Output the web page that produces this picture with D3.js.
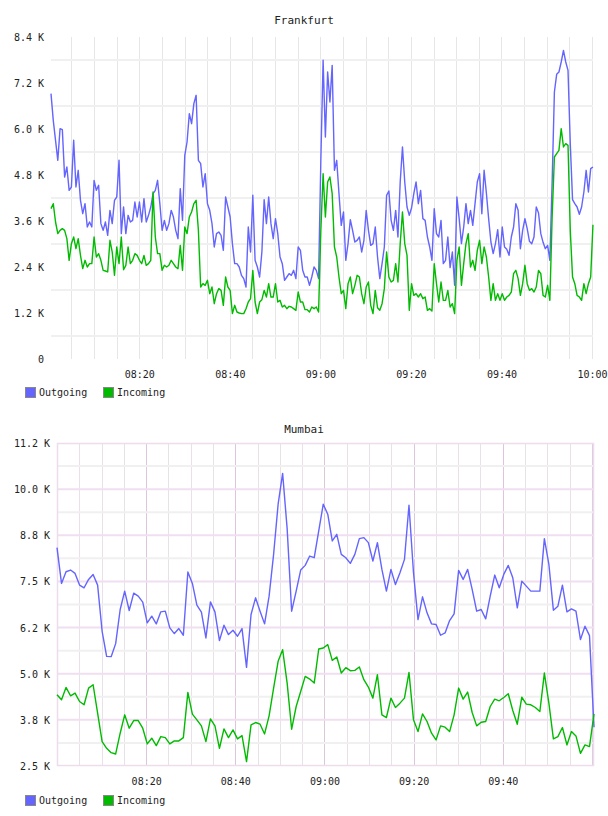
<!DOCTYPE html>
<html>
<head>
<meta charset="utf-8">
<script src="https://cdn.jsdelivr.net/npm/d3@7"></script>
<style>
  body { margin: 0; background: #fff; }
  svg { display: block; }
  text { font-family: "DejaVu Sans Mono", "Liberation Mono", monospace; fill: #222; }
</style>
</head>
<body>
<script>
// Frankfurt: one sample roughly every 30 s, 08:00:29 -> 10:00:14
var frankfurtOut = [
  6922, 6226, 5705, 5183, 6009, 5983, 4748, 5009, 4400, 4487,
  5705, 4487, 4922, 4139, 3791, 4052, 3444, 3574, 3444, 4661,
  4400, 4531, 3531, 3357, 3574, 3226, 3878, 3531, 4139, 4226,
  5183, 3270, 3965, 3270, 3748, 3574, 3617, 4096, 3704, 4096,
  3574, 4183, 3574, 3748, 3965, 4313, 4400, 4661, 4052, 3357,
  3617, 3357, 3531, 3878, 3704, 3357, 3139, 4444, 3617, 5313,
  5661, 6400, 6139, 6661, 6879, 5183, 5096, 4487, 4835, 4052,
  3878, 3531, 2922, 3270, 3313, 3226, 2835, 4226, 3965, 3704,
  3009, 2487, 2487, 2400,
  2183, 2096, 1878, 3444, 2791, 4270, 2574, 2400, 2139, 2791,
  4157, 3531, 4226, 3531, 3139, 3661, 3270, 2661, 2487, 2052,
  2139, 2226, 2183, 2313, 2096, 2922, 2835, 2313, 2139, 2139,
  1922, 2139, 2400, 2313, 2096, 5183, 7792, 5792, 7487, 6705,
  7661, 4922, 5183, 4313, 3487, 3835, 2574, 3009, 3635, 3357,
  3052, 3096, 3183, 2791, 3096, 3878, 3357, 2965, 3009, 3444,
  2661, 2096, 2487, 2922, 4270, 4383, 3617, 3357, 3878, 3183,
  4618, 5531, 4618, 3965, 3748, 3939, 4313, 4618, 4052, 4400,
  3661, 3617, 3183, 2922,
  2574, 3922, 3270, 3183, 3617, 2487, 2574, 3183, 2383, 2791,
  1922, 4226, 3661, 3009, 3444, 4052, 3531, 3878, 3487, 4052,
  4618, 4835, 3791, 4922, 4331, 3661, 3052, 2748, 3009, 3374,
  2661, 3444, 2922, 2861, 2704, 3183, 3444, 4052, 3878, 2878,
  3357, 3661, 3400, 3070, 3009, 3183, 3965, 3809, 3270, 3044,
  2878, 2965, 2574, 4618, 6965, 7426, 7487, 7748, 8052, 7748,
  7531, 5618, 4157, 4052, 3965, 3774, 3965, 4357, 4922, 4357,
  4965, 5009
];
var frankfurtIn = [
  3922, 4052, 3574, 3270, 3357, 3400, 3357, 3139, 2574, 3009,
  3183, 2878, 3139, 2704, 2357, 2574, 2400, 2487, 2487, 3183,
  2661, 2748, 2574, 2313, 2296, 2270, 3096, 2791, 2183, 2922,
  2487, 3183, 2330, 2444, 2922, 2487, 2574, 2748, 2704, 2574,
  2487, 2704, 2444, 2487, 2574, 4357, 3183, 2748, 2748, 2313,
  2444, 2400, 2444, 2574, 2487, 2400, 2357, 2965, 2313, 3444,
  3270, 3704, 3835, 4052, 4139, 3357, 1878, 1965, 1922, 2052,
  1704, 1878, 1443, 1704, 1835, 1791, 1400, 2139, 1878, 1791,
  1183, 1400, 1226, 1200,
  1183, 1183, 1313, 1487, 1574, 2313, 1487, 1183, 1487, 1548,
  1791, 1617, 1965, 1617, 1617, 1965, 1487, 1530, 1357, 1400,
  1313, 1374, 1357, 1313, 1270, 1748, 1487, 1487, 1287, 1287,
  1226, 1357, 1313, 1357, 1226, 3357, 4835, 3704, 4618, 4748,
  4313, 2922, 2661, 2139, 1704, 1791, 1313, 1965, 2139, 1704,
  1922, 2183, 2139, 1704, 1443, 1878, 2009, 1400, 1183, 1791,
  1339, 1270, 1443, 1835, 2791, 2139, 2009, 2052, 2487, 2009,
  3009, 3835, 3009, 2704, 1270, 1965, 1661, 1704, 1617, 1704,
  1574, 1617, 1270, 1313,
  1252, 2487, 1965, 1487, 2009, 1530, 1530, 1791, 1357, 1443,
  1183, 2574, 2922, 1922, 2487, 3009, 3270, 2400, 2574, 2313,
  2835, 3096, 2487, 2922, 2661, 2139, 1530, 1965, 1530, 1704,
  1530, 1704, 1530, 1617, 1661, 1748, 2226, 2313, 2096, 1661,
  1965, 2444, 1965, 1791, 1835, 1748, 1878, 2313, 2226, 1661,
  1617, 1922, 1530, 3704, 5270, 5357, 5444, 6009, 5531, 5618,
  5574, 3357, 2139, 1965, 1661, 1617, 1530, 1965, 1704, 1965,
  2139, 3504
];

// Mumbai: one sample about every minute, 08:00 -> 10:00
var mumbaiOut = [
  8415, 7446, 7763, 7808, 7717, 7400, 7328, 7554, 7690, 7400,
  6150, 5471, 5462, 5815, 6739, 7237, 6712, 7183, 7102, 6938,
  6377, 6558, 6350, 6676, 6694, 6241, 6087, 6223, 6042, 7754,
  7446, 6857, 6667, 5969, 6947, 6676, 5897, 6313, 6060, 6178,
  6015, 6223, 5172, 6603, 7056, 6694, 6350, 7101, 8234, 9592,
  10426, 8931, 6694, 7237, 7808, 7935, 8188, 8143, 8868, 9592,
  9321, 8596, 8777, 8234, 8143, 7989, 8234, 8659, 8687, 8551,
  8053, 8551, 7826, 7237, 7826, 7418, 7735, 8098, 9565, 7735,
  6467, 7083, 6649, 6350, 6332, 6042, 6105, 6440, 6621, 7799,
  7554, 7826, 7283, 6694, 6739, 6486, 7101, 7672, 7328, 7690,
  7935, 7600, 6784, 7509, 7373, 7237, 7237, 7237, 8659, 7962,
  6721, 6830, 7400, 6676, 6757, 6694, 5924, 6286, 6033, 3551
];
var mumbaiIn = [
  4429, 4293, 4629, 4402, 4475, 4248, 4158, 4611, 4701, 3931,
  3161, 2980, 2862, 2826, 3388, 3886, 3524, 3732, 3732, 3524,
  3098, 3252, 3053, 3297, 3270, 3098, 3179, 3179, 3270, 4493,
  3904, 3750, 3587, 3161, 3777, 3587, 2980, 3505, 3270, 3478,
  3234, 3324, 2618, 3614, 3678, 3632, 3369, 3859, 4611, 5335,
  5652, 4746, 3496, 4112, 4520, 4928, 4855, 4746, 5670, 5697,
  5788, 5362, 5453, 5018, 5163, 5082, 5091, 5181, 4837, 4638,
  4339, 4973, 3886, 3813, 4339, 4085, 4203, 4339, 5036, 3750,
  3433, 3913, 3705, 3388, 3207, 3587, 3551, 3433, 3886, 4611,
  4312, 4502, 3949, 3587, 3687, 3705, 4112, 4312, 4266, 4357,
  4457, 4004, 3632, 4366, 4176, 4158, 4085, 3976, 5018, 4203,
  3234, 3297, 3542, 3071, 3433, 3315, 2844, 3071, 3025, 3913
];

var seriesNames = ["Outgoing", "Incoming"];
var seriesColors = ["#6464ff", "#00bb00"];

var frankfurtYTicks = [0, 1200, 2400, 3600, 4800, 6000, 7200, 8400];
var frankfurtYLabels = ["0", "1.2 K", "2.4 K", "3.6 K", "4.8 K", "6.0 K", "7.2 K", "8.4 K"];
var mumbaiYTicks = [2500, 3750, 5000, 6250, 7500, 8750, 10000, 11250];
var mumbaiYLabels = ["2.5 K", "3.8 K", "5.0 K", "6.2 K", "7.5 K", "8.8 K", "10.0 K", "11.2 K"];
var frankfurtXLabels = ["08:20", "08:40", "09:00", "09:20", "09:40", "10:00"];
var mumbaiXLabels = ["08:20", "08:40", "09:00", "09:20", "09:40"];

function at(h, m, s) { return new Date(2020, 0, 1, h, m, s || 0); }
var parseHM = d3.timeParse("%H:%M");
function labelTime(str) { var p = parseHM(str); return at(p.getHours(), p.getMinutes()); }

var svg = d3.select("body").append("svg").attr("width", 608).attr("height", 816);

function drawChart(cfg) {
  var g = svg.append("g");
  var n = cfg.out.length;
  var times = d3.range(n).map(function(i) { return new Date(+cfg.start + i * cfg.step * 1000); });

  var x = d3.scaleTime().domain([cfg.start, cfg.end]).range([cfg.left, cfg.right]);
  var y = d3.scaleLinear().domain(cfg.yDomain).range([cfg.bottom, cfg.top]);
  var h = cfg.bottom - cfg.top;

  // vertical grid, every 5 minutes
  var vgrid = d3.timeMinute.every(5).range(cfg.start, cfg.end);
  g.selectAll(".vg").data(vgrid).enter().append("line")
    .attr("x1", function(d) { return Math.round(x(d)) + 0.5; })
    .attr("x2", function(d) { return Math.round(x(d)) + 0.5; })
    .attr("y1", cfg.top).attr("y2", cfg.bottom)
    .attr("stroke", function(d) { return (cfg.framed && d.getMinutes() % 20 === 0) ? "#dcc6dc" : cfg.vGridColor; })
    .attr("stroke-width", 1);

  // horizontal grid
  g.selectAll(".hg").data(cfg.hGrid).enter().append("line")
    .attr("x1", cfg.left).attr("x2", cfg.right)
    .attr("y1", function(d) { return y(d.v); }).attr("y2", function(d) { return y(d.v); })
    .attr("stroke", function(d) { return d.major ? "#f0dff0" : "#f0f0f0"; })
    .attr("stroke-width", 2);

  if (cfg.framed) {
    g.append("rect")
      .attr("x", cfg.left + 0.5).attr("y", cfg.top + 0.5)
      .attr("width", cfg.right - cfg.left - 1).attr("height", h - 1)
      .attr("fill", "none").attr("stroke", "#ecdcec").attr("stroke-width", 1.5);
  }

  // lines
  var line = d3.line()
    .x(function(d, i) { return x(times[i]); })
    .y(function(d) { return y(d); });
  [cfg.out, cfg.inc].forEach(function(vals, si) {
    g.append("path").datum(vals)
      .attr("d", line)
      .attr("fill", "none")
      .attr("stroke", seriesColors[si])
      .attr("stroke-width", 1.4)
      .attr("stroke-linejoin", "round");
  });

  // y axis labels
  var yAxis = d3.axisLeft(y).tickValues(cfg.yTicks).tickSize(0).tickPadding(0)
    .tickFormat(function(d, i) { return cfg.yLabels[i]; });
  var ya = g.append("g").attr("transform", "translate(" + cfg.yLabelX + ",0)").call(yAxis);
  ya.select(".domain").remove();
  ya.selectAll("text").attr("font-size", 10).attr("font-family", null).attr("fill", "#222").attr("dy", "0.35em");

  // x axis labels
  var xAxis = d3.axisBottom(x).tickValues(cfg.xLabels.map(labelTime)).tickSize(0).tickPadding(0)
    .tickFormat(d3.timeFormat("%H:%M"));
  var xa = g.append("g").attr("transform", "translate(0," + (cfg.bottom + 15) + ")").call(xAxis);
  xa.select(".domain").remove();
  xa.selectAll("text").attr("font-size", 10).attr("font-family", null).attr("fill", "#222").attr("dy", "0.35em");

  // title
  g.append("text").attr("x", 304).attr("y", cfg.titleY).attr("dy", "0.35em")
    .attr("text-anchor", "middle").attr("font-size", 11).text(cfg.title);

  // legend
  var legendX = [25, 103];
  seriesNames.forEach(function(name, i) {
    g.append("rect").attr("x", legendX[i] + 0.5).attr("y", cfg.legendY - 5 + 0.5)
      .attr("width", 10).attr("height", 10)
      .attr("fill", seriesColors[i]).attr("stroke", "#888");
    g.append("text").attr("x", legendX[i] + 14).attr("y", cfg.legendY).attr("dy", "0.35em")
      .attr("font-size", 10).text(name);
  });
}

drawChart({
  title: "Frankfurt", titleY: 20,
  out: frankfurtOut, inc: frankfurtIn,
  start: at(8, 0, 29), end: at(10, 0, 14), step: 30.06,
  left: 51, right: 593, top: 37, bottom: 359,
  yDomain: [0, 8400], yTicks: frankfurtYTicks, yLabels: frankfurtYLabels, yLabelX: 44,
  xLabels: frankfurtXLabels,
  hGrid: d3.range(600, 8400, 1200).map(function(v) { return { v: v, major: false }; }),
  vGridColor: "#e6e6e6", framed: false,
  legendY: 392
});

drawChart({
  title: "Mumbai", titleY: 429,
  out: mumbaiOut, inc: mumbaiIn,
  start: at(8, 0, 0), end: at(10, 0, 28), step: 60.74,
  left: 57, right: 594, top: 443, bottom: 766,
  yDomain: [2500, 11250], yTicks: mumbaiYTicks, yLabels: mumbaiYLabels, yLabelX: 50,
  xLabels: mumbaiXLabels,
  hGrid: d3.range(3125, 11250, 625).map(function(v) { return { v: v, major: (v - 2500) % 1250 === 0 }; }),
  vGridColor: "#e8e2e8", framed: true,
  legendY: 800
});
</script>
</body>
</html>
